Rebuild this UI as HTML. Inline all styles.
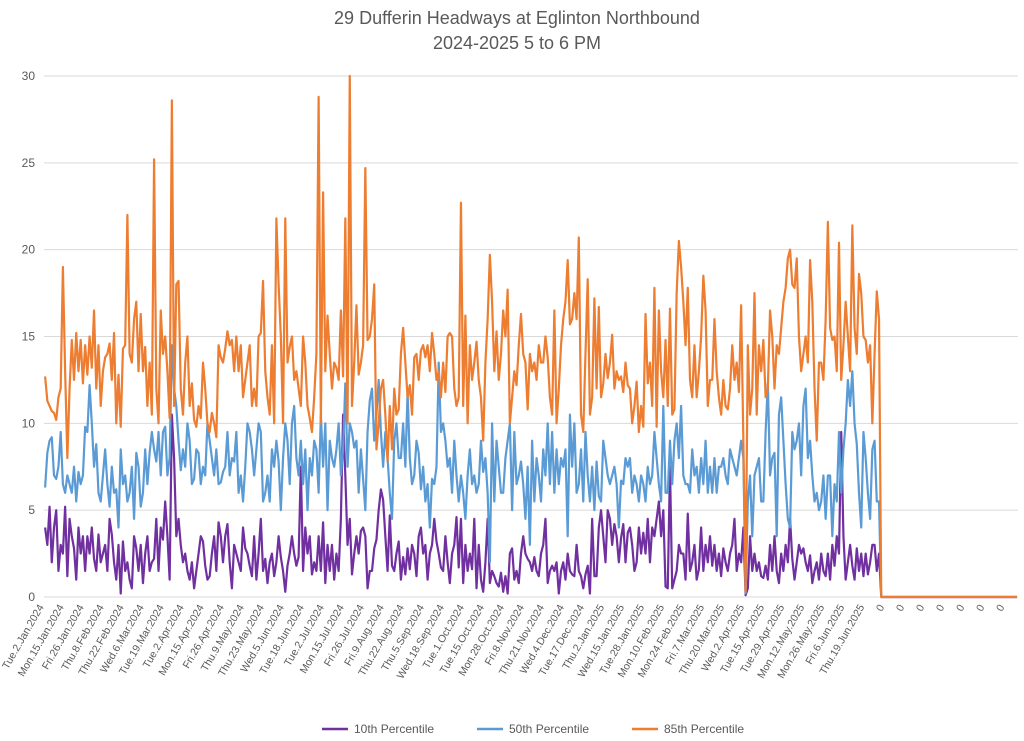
<!DOCTYPE html>
<html><head><meta charset="utf-8">
<style>
html,body{margin:0;padding:0;background:#fff;}
svg{display:block;font-family:"Liberation Sans",sans-serif;}
</style></head>
<body>
<svg id="chart" width="1024" height="741" viewBox="0 0 1024 741">
<text x="517" y="24" text-anchor="middle" font-size="18" fill="#595959">29 Dufferin Headways at Eglinton Northbound</text>
<text x="517" y="49" text-anchor="middle" font-size="18" fill="#595959">2024-2025 5 to 6 PM</text>
<g id="grid"></g>
<g id="yaxis"></g>
<g id="xaxis"></g>
<g id="series"></g>
<g>
<g><line x1="322" y1="729" x2="348" y2="729" stroke="#7030a0" stroke-width="2.5"/><text x="354" y="733" font-size="12" fill="#595959">10th Percentile</text></g>
<g><line x1="477" y1="729" x2="503" y2="729" stroke="#5b9bd5" stroke-width="2.5"/><text x="509" y="733" font-size="12" fill="#595959">50th Percentile</text></g>
<g><line x1="632" y1="729" x2="658" y2="729" stroke="#ed7d31" stroke-width="2.5"/><text x="664" y="733" font-size="12" fill="#595959">85th Percentile</text></g>
</g>
</svg>
<script>
const yTicks=[0,5,10,15,20,25,30];
const tickLabels=["Tue.2.Jan.2024","Mon.15.Jan.2024","Fri.26.Jan.2024","Thu.8.Feb.2024","Thu.22.Feb.2024","Wed.6.Mar.2024","Tue.19.Mar.2024","Tue.2.Apr.2024","Mon.15.Apr.2024","Fri.26.Apr.2024","Thu.9.May.2024","Thu.23.May.2024","Wed.5.Jun.2024","Tue.18.Jun.2024","Tue.2.Jul.2024","Mon.15.Jul.2024","Fri.26.Jul.2024","Fri.9.Aug.2024","Thu.22.Aug.2024","Thu.5.Sep.2024","Wed.18.Sep.2024","Tue.1.Oct.2024","Tue.15.Oct.2024","Mon.28.Oct.2024","Fri.8.Nov.2024","Thu.21.Nov.2024","Wed.4.Dec.2024","Tue.17.Dec.2024","Thu.2.Jan.2025","Wed.15.Jan.2025","Tue.28.Jan.2025","Mon.10.Feb.2025","Mon.24.Feb.2025","Fri.7.Mar.2025","Thu.20.Mar.2025","Wed.2.Apr.2025","Tue.15.Apr.2025","Tue.29.Apr.2025","Mon.12.May.2025","Mon.26.May.2025","Fri.6.Jun.2025","Thu.19.Jun.2025","0","0","0","0","0","0","0"];
const categoryCount=438;
const labelEvery=9;
const p10=[4,3,5.2,2,4,5,1.5,3,2.5,5.2,1.2,4.5,3.5,2.8,1,4,2.5,3.5,1.5,3.5,2.5,4,2.2,1.5,3.6,2,2.5,3,1.5,4.5,3.6,2,1,3,0.2,3.2,1.5,2,1,0.5,3.5,2.8,1.5,3,0.8,2.5,3.5,1.5,2,2.2,4.5,1.5,4,3.3,5.5,3.5,1,10.5,8,3.5,4.5,3,2,2.5,1.5,1,2,0.5,1.5,2.5,3.5,3.2,1.8,1,1.2,2.5,3.5,1.5,4.3,3.5,2,3.5,4.2,2,0.5,3,2.5,2,1.5,4,2.8,2.5,1.8,1.2,3.5,1,2.5,4.5,1.5,2.2,0.8,2,2.5,1.2,2,3.5,2.3,1.5,0.3,1.8,2.5,3.5,2.5,1.8,2.3,7.5,1.5,4,2.5,3.5,1.3,2,1.5,3.5,1.5,4.3,0.8,3,1.5,3,1,2.5,1.5,4.5,10.5,7,3,4.5,1.3,2.5,3.5,2.5,3.8,4,3.5,0.5,1.5,1.5,2.8,3.3,5,6.2,5.6,3.5,1.5,4.7,1.8,1.5,2.5,3.2,1,2.3,1.3,2.8,1.6,3,2.5,1.2,3.5,4,2.5,3,1,2.5,3,4.5,3.2,2.5,1.7,1.5,3.5,2,0.8,2.5,3,4.6,1.7,4.5,0.8,3,1.5,2.5,1.6,4.5,0.5,3,1,0.3,2,4.5,0.8,1.5,1.2,0.8,0.6,1.4,0.3,1.2,0.2,2.5,2.8,1,1.5,0.8,2.5,3.5,2.5,2.2,2,1.5,2.3,1.5,1.2,2.5,3,4.5,0.8,1.5,1.8,1.5,2,0.2,1.5,2,1,2.5,1.5,1.3,1.2,3,1.5,1.2,0.5,1.3,1.8,0.2,4.5,1.2,1.2,4,5,3.5,2,5,4.5,3,4.2,3.5,2,3.4,4.2,2,3.7,4,3,1.5,2,4,2.5,3.7,2.5,4.5,2,4,3.5,4.5,5.5,3.5,5,0.6,0.5,7.5,0.5,1,1.5,3,2.5,2.5,1,4.8,1.5,2,3,1,1.6,4,1.5,3,2,3.5,1.8,3,1.5,2.5,1.2,2.8,2,1.5,2.5,3,4.5,1.5,2.5,2,4,0.1,0.5,3.5,1.5,2.5,1.5,2,1.2,1.1,1.8,1,3,1.5,3.5,1.5,0.8,2.5,1.5,3,2,4.5,2.2,1,2,3,2.5,2.8,2,1.5,2.4,0.8,1.5,2,1,2.5,1.5,1.2,2.5,1,3,1.8,3.5,2.5,9.5,3.5,1,2,3,1.8,1,2.8,1.5,2.5,1.2,2.5,1.3,2,3,3,1.5,2.5];
const p50=[6.3,8.3,9,9.2,7,6.8,7.5,9.5,6.5,6,7,6.5,6,7.5,5.5,7.2,6.5,7,9.8,9.5,12.2,10,7.5,8.8,6,5.5,7,8.5,6.5,5.2,7.5,6,6.2,4,8.5,6.5,7,5.5,6,7.5,4.5,8.3,7.5,5.2,6,8.5,6.5,8.3,9.5,8.5,7.8,9.5,7,9.5,9.8,7,8,14.5,12,11,9,7.3,8.5,7.5,10,9,6.5,6.8,8.5,8.3,6.5,7.5,7,10,9,8,7,8.5,6.5,6.6,7.2,7.5,9.5,7,8,7.8,9.5,6,7,5.5,7.5,10,9.5,8.5,7,8.5,10,9.5,5.5,6,7,5.5,8.5,7.5,9,7.8,5,8,10,9,6.5,10,11,8,7,9,6.5,8.5,5,8,7,9,8.5,6,10.5,7.5,10,5,9,8,7.5,8.5,10,7,8.5,12.3,7.5,10,9.5,8.6,9,6,8.5,6.8,5,9.5,11.3,12,9,10.5,12.5,9.5,7.5,9.5,8,6,4.5,9,10,8,8,10,7.5,11.8,8,6.5,7,9,8.3,6.2,7.5,5.5,6.5,4,6.8,6.5,7.5,13.5,9.5,10,9,7.5,8,6,9,7,5.5,7,6,4.5,7,8.5,6.5,7,6,6.5,9,7.2,8,6,2,10,5.5,9,7.5,6,6,8,9,10,5,9.5,6.5,7,7.8,6.5,4.5,7.5,3,9,5.5,8,7,5.5,8.5,7,10,6.5,9.5,6,8.5,6.5,8,7.5,8.5,3.5,10.5,7.5,10,6,6.5,8.5,5.5,9.5,7,5.5,7.5,5,7.8,5.8,5.5,9,8,7,6.5,7,7.5,6.5,4,6.7,6.5,8,7.5,8,6,7,6.5,5.5,7,6.5,5.5,7.5,6.5,7,9.5,8,6.5,5.5,11,6,6,9,6.5,9,10,8,11,7,6.5,6.5,6,8.5,7,7.5,6,8,6.5,9,6,7.5,6,8,6,7.5,7.5,8,7,6.5,8.5,8,7.5,7,8,9,8,0.2,5.5,7,3.5,7,7.5,8,5.5,5.5,9.5,12.3,7,8,8.3,3.5,10.5,11.5,9,6.5,4.5,4,9.5,8.5,9,10,7,11,12,8,9,7,5.5,6,5,5.5,7,4.5,7,7,3.5,6.5,5.5,9.5,6,8.5,10,12.5,11,13,10,8.8,6,4,9.5,8,6,4.5,8.5,9,5.5,5.5];
const p85=[12.7,11.3,11,10.7,10.6,10.2,11.5,12,19,13,8,12,14.8,12.5,15.2,13,14.8,12.3,14.5,12.8,15,13.2,16.5,12,14.5,11,13,13.8,14,14.6,12.5,15.2,10,12.8,9.8,14.3,14.5,22,14,13.5,16,17,13,16.3,13,14.4,11,13.5,10.5,25.2,12,10,16.5,14,15,13,10.3,28.6,11,18,18.2,12,10.5,13.5,15,11,12.3,10.2,9.8,11,10.3,13.5,12,10,9.5,10.6,10,9.2,14.5,13.8,13.5,14.3,15.3,14.5,14.8,13,15,13,14.5,11.5,12.5,13.5,14.5,11,12,11,15,15.2,18.2,13,11.5,10.5,14.5,10,21.8,18,15,10,21.8,13.5,14.4,15,12.5,13,12,11,15,13.5,11,10.3,9.5,11.5,14,28.8,10,23.3,13,16.2,14,12,13.5,13.2,12.5,16.5,12.7,21.8,10,30,11,13.5,16.8,12.8,13.5,14.5,24.7,14.8,15,16,18,8.5,10,12,12.5,10.5,7.8,11,8.5,12,10.5,10.8,14,15.5,13.5,11.5,12.2,10.5,13.8,14,12.5,14.2,14.5,13.8,14.5,13,15.2,14,12.5,13,11.5,13.5,11.8,15,15.2,15,12,11,11.5,22.7,11,16.2,10,14.5,12.5,13.5,14.7,12.5,11.5,9,13.5,16,19.7,17,13,15.3,12.5,14,16.5,15,17.7,10,11.5,13,12.2,14.5,16.3,14,13.5,10.8,14,13,13.5,12.5,14.5,13.5,13.5,15,13.8,11.5,10.5,16.5,10,12,14.5,16,17,19.4,15.7,16,17.5,16,20.7,10.5,9.5,14,18.3,10.5,11.5,17.2,12,16.7,11.5,12.3,14,12.6,13.5,15.1,12,13,12.5,12.7,11.8,13.5,12.2,12,10,11,12.4,9.5,11,9.8,16.3,12.3,13.5,11,17.8,9.8,16.5,13,11.5,14.8,11,16.6,10.5,10.8,17.5,20.5,19,17,14.5,17.8,12.5,11.5,14.5,11.5,13,15,18.5,16.5,11,12.5,12.5,16,13,11.5,10.5,12.5,11,10.8,12,14.5,12.5,13.5,11.8,16.8,9,0.3,14.5,10.5,12,17.5,10.5,14.5,13,14.8,11.5,12,16.5,15,12,14.5,14,15.5,17,17.8,19.5,20,18,17.8,19.5,15,13,14,15,13.5,19.4,17,12,9,13.5,13.5,12.5,16,21.6,15.5,14.8,15,13,20.4,12.5,14.5,17,15,13,21.4,15.5,14,18.6,17.5,15,14.8,13.5,14.5,10,14,17.6,16];

const NS="http://www.w3.org/2000/svg";
const plotL=44,plotR=1018,plotT=76,plotB=597,yMax=30;
const step=(plotR-plotL)/categoryCount;
function xPos(i){return plotL+(i+0.5)*step;}
function yPos(v){return plotB-(v/yMax)*(plotB-plotT);}
function mk(tag,attrs,parent){const e=document.createElementNS(NS,tag);for(const k in attrs)e.setAttribute(k,attrs[k]);parent.appendChild(e);return e;}
const grid=document.getElementById('grid'),yax=document.getElementById('yaxis'),xax=document.getElementById('xaxis'),ser=document.getElementById('series');
yTicks.forEach(t=>{
  const g=mk('line',{x1:plotL,x2:plotR,y1:yPos(t),y2:yPos(t),stroke:'#d9d9d9','stroke-width':1},grid);
  
  
  const tx=mk('text',{x:35,y:yPos(t)+4,'text-anchor':'end','font-size':12,fill:'#595959'},yax);
  tx.textContent=t;
  
  
});
tickLabels.forEach((lab,k)=>{
  const i=k*labelEvery;const x=xPos(i)-1,y=607;
  const tx=mk('text',{x:x,y:y,'text-anchor':'end','font-size':10.5,fill:'#595959',transform:'rotate(-60 '+x+' '+y+')'},xax);
  tx.textContent=lab;
  
  
});
function drawSeries(vals,color,name){
  let d='';
  for(let i=0;i<categoryCount;i++){const v=i<vals.length?vals[i]:0;d+=(i?'L':'M')+xPos(i).toFixed(2)+' '+yPos(v).toFixed(2);}
  const p=mk('path',{d:d,fill:'none',stroke:color,'stroke-width':2.2,'stroke-linejoin':'round'},ser);
  
  
}
drawSeries(p10,'#7030a0','line-10th-percentile');
drawSeries(p50,'#5b9bd5','line-50th-percentile');
drawSeries(p85,'#ed7d31','line-85th-percentile');
</script>
</body></html>
